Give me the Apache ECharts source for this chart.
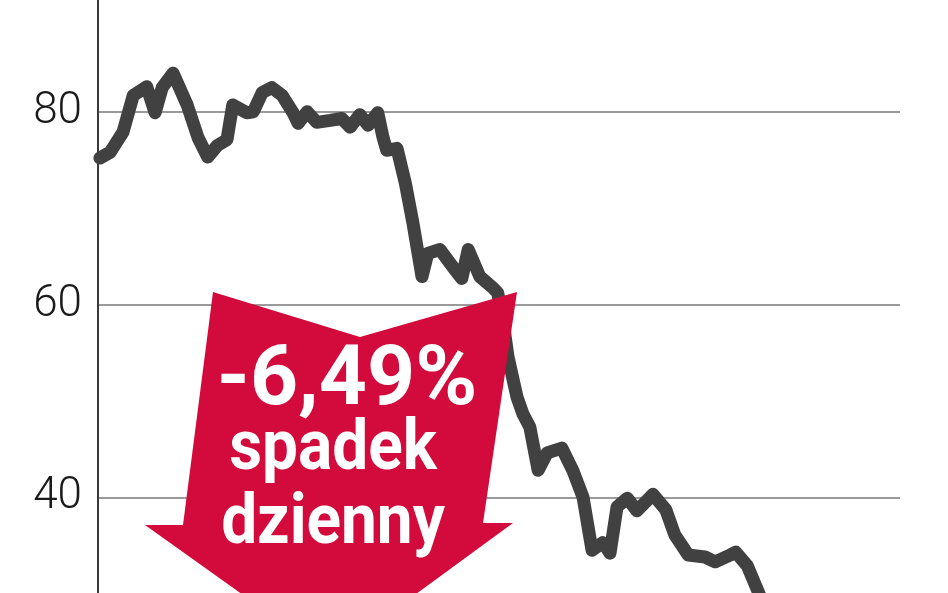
<!DOCTYPE html>
<html>
<head>
<meta charset="utf-8">
<script src="https://cdn.jsdelivr.net/npm/echarts@6/dist/echarts.min.js"></script>
<style>
html,body{margin:0;padding:0;background:#fff;}
#chart{width:948px;height:593px;}
</style>
</head>
<body>
<div id="chart"></div>
<script>
// trading-day position (x) and price (y)
var days = [0.3,1.9,3.9,5.5,7.6,8.9,10.0,11.7,13.9,15.6,17.1,18.6,20.1,21.0,23.2,24.2,25.6,27.1,28.7,30.4,31.2,32.6,34.1,36.2,38.0,39.3,40.8,42.1,43.6,44.4,45.0,46.6,47.9,49.1,50.5,51.4,53.3,55.3,56.7,57.7,59.5,61.6,62.3,63.1,63.9,65.3,66.2,67.3,68.6,70.0,72.3,74.0,75.6,77.0,78.7,79.8,80.9,82.5,84.0,86.5,88.5,89.9,92.0,94.6,96.2,98.5,99.4,101.2,102.9,104.7];
var prices = [75.2,75.8,77.9,81.7,82.6,79.9,82.5,84.0,80.7,77.3,75.3,76.5,77.1,80.7,79.9,80.0,82.0,82.5,81.7,79.9,78.8,80.0,78.9,79.1,79.3,78.4,79.7,78.6,79.9,77.4,76.0,76.2,72.6,68.4,62.9,65.3,65.7,63.9,62.7,65.7,62.9,61.7,61.2,58.4,54.6,50.4,48.7,47.3,42.8,44.6,45.1,42.8,40.0,34.5,35.3,34.2,39.0,39.9,38.6,40.3,38.7,36.1,34.0,33.8,33.3,34.0,34.3,32.9,30.2,27.3];
var yTicks = [40, 60, 80];
var badgeLines = ['-6,49%', 'spadek', 'dzienny'];

var seriesData = days.map(function(d, i){ return [d, prices[i]]; });

var chart = echarts.init(document.getElementById('chart'), null, {renderer:'canvas'});
chart.setOption({
  animation: false,
  backgroundColor: '#ffffff',
  grid: { left: 98, right: 48, top: -81, bottom: -97, containLabel: false, outerBoundsMode: 'none' },
  xAxis: {
    type: 'value', min: 0, max: 125,
    show: false
  },
  yAxis: {
    type: 'value', min: 20, max: 100, interval: 20,
    axisLine: { show: true, lineStyle: { color: '#3a3a3a', width: 2 } },
    axisTick: { show: false },
    splitLine: { show: true, lineStyle: { color: '#9a9a9a', width: 2 } },
    axisLabel: {
      margin: 16,
      fontFamily: 'Roboto',
      fontWeight: 300,
      fontSize: 44,
      color: '#1a1a1a',
      formatter: function(v){ return yTicks.indexOf(v) >= 0 ? String(v) : ''; }
    }
  },
  series: [{
    type: 'line',
    data: seriesData,
    showSymbol: false,
    smooth: false,
    clip: false,
    lineStyle: { color: '#414141', width: 13, cap: 'round', join: 'round' },
    z: 3
  }],
  graphic: [
    {
      type: 'polygon', z: 100,
      shape: { points: [[213,292],[360,337],[517,292],[483,523],[513,523],[330,657],[145,525],[183,525]] },
      style: { fill: '#d20b3c' }
    },
    {
      type: 'text', z: 101, x: 347, y: 425,
      style: { text: badgeLines[0], fill: '#fff', font: 'bold 84px Roboto', textAlign: 'center', verticalAlign: 'bottom' }
    },
    {
      type: 'text', z: 101, x: 333, y: 487, scaleX: 0.9,
      style: { text: badgeLines[1], fill: '#fff', font: 'bold 71px Roboto', textAlign: 'center', verticalAlign: 'bottom' }
    },
    {
      type: 'text', z: 101, x: 333, y: 561, scaleX: 0.9,
      style: { text: badgeLines[2], fill: '#fff', font: 'bold 71px Roboto', textAlign: 'center', verticalAlign: 'bottom' }
    }
  ]
});
</script>
</body>
</html>
